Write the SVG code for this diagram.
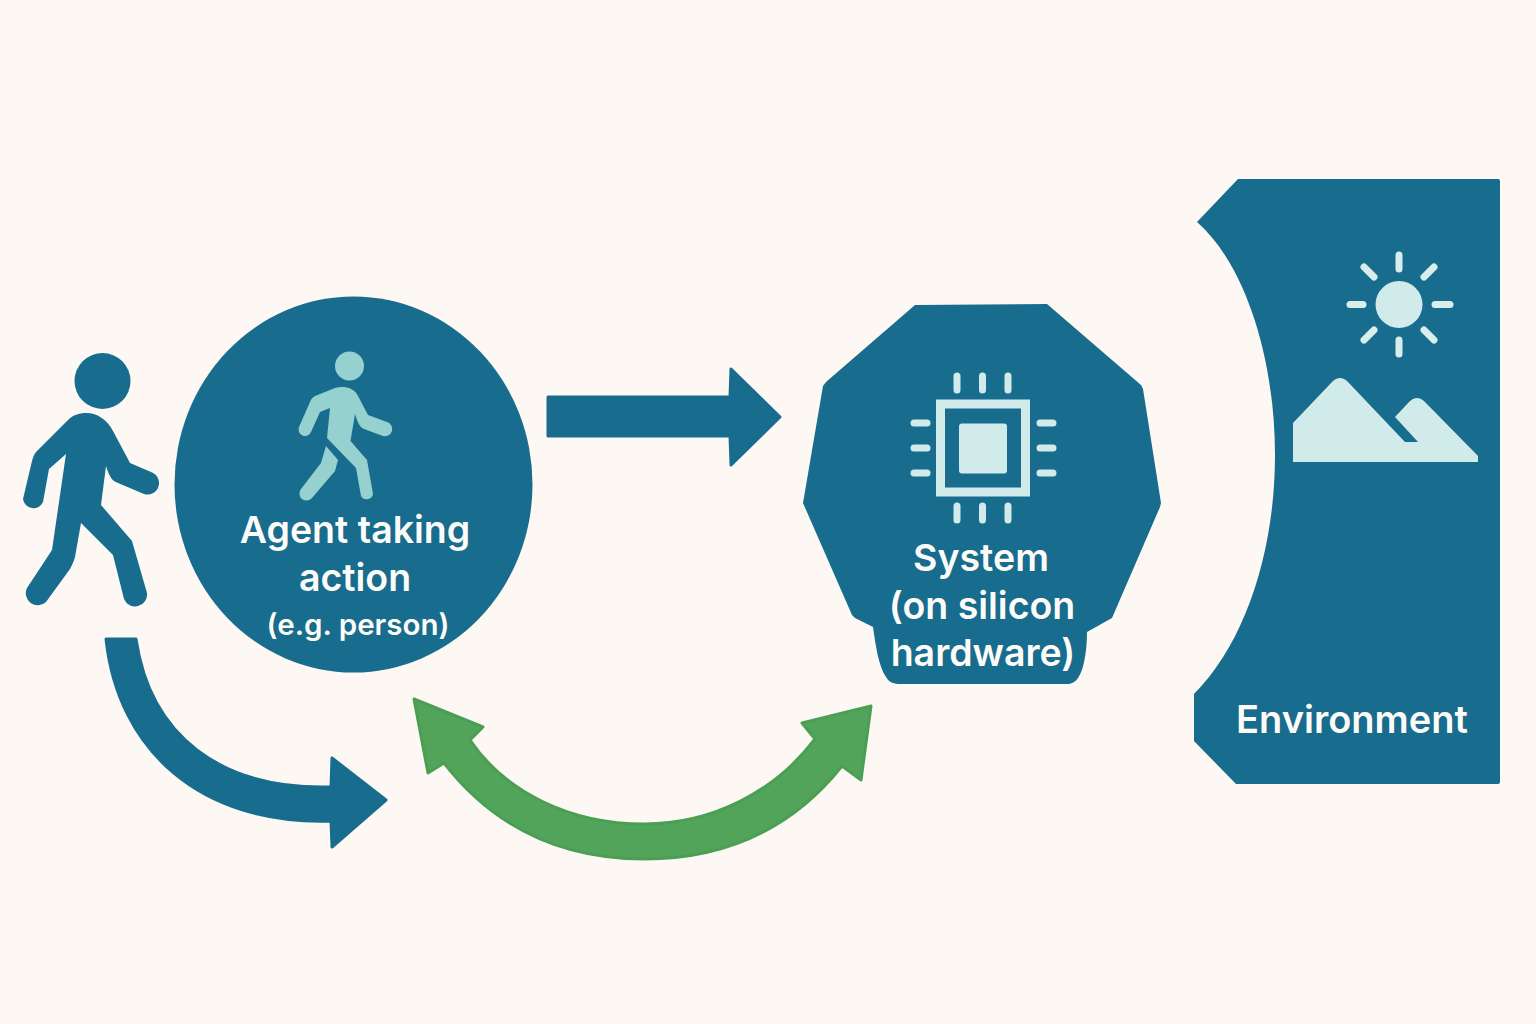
<svg xmlns="http://www.w3.org/2000/svg" width="1536" height="1024" viewBox="0 0 1536 1024">
<style>
.blue{fill:#186c8e;stroke:#186c8e;stroke-width:3;stroke-linejoin:round}
.green{fill:#52a45a;stroke:#4b9f55;stroke-width:3;stroke-linejoin:round}
.teal{fill:#96d1d0}
.pale{fill:#d0ebe9}
.pin{stroke:#d0ebe9;stroke-width:7;stroke-linecap:round;fill:none}
.ray{stroke:#d8eeec;stroke-width:7;stroke-linecap:round;fill:none}
text{font-family:Inter,Roboto,"Liberation Sans",sans-serif;font-weight:600;fill:#fdfbf7;text-anchor:middle}
</style>
<rect width="1536" height="1024" fill="#fdf8f3"/>
<g id="person">
<circle cx="102.500" cy="381" r="28" fill="#186c8e"/>
<path fill="#186c8e" d="M86 413C98 413 107 420 113 431L130 463L151 472A11.500 11.500 0 0 1 144 494L118 483C112 481 109 476 106 466L101 505L132 541L147 593A12 12 0 0 1 124 599L113 555L81 523L75 557C74 561 72 565 70 569L46 602A12 12 0 0 1 27 588L52 550L66 454L49 469L43 502A10.500 10.500 0 0 1 23 499L32 461C33 457 34 454 37 451L68 420C73 415 79 413 86 413Z"/>
</g>
<g id="agent">
<ellipse cx="353.500" cy="484.500" rx="179" ry="188" fill="#186c8e"/>
<circle cx="349.500" cy="366" r="14.500" class="teal"/>
<path class="teal" d="M343 387C350 387 356 391 358 396L368 415L387 422A7 7 0 0 1 383 436L364 429C360 427 358 424 355 414L350.500 441L367 460L373 494A6.500 6.500 0 0 1 361 496L356 468L327 438L330 408L320 412L311 432A6.500 6.500 0 0 1 299 427L310 402C311 399 313 397 315 396L335 388C338 387 340 387 343 387Z"/>
<path class="teal" d="M326 446L338 460L335 471L312 498A7 7 0 0 1 301 489L321 463Z"/>
<text x="355" y="543" font-size="37.500">Agent taking</text>
<text x="355" y="591" font-size="37.500">action</text>
<text x="358" y="635" font-size="29.500">(e.g. person)</text>
</g>
<g id="system">
<path fill="#186c8e" d="M915 305L1047 304L1141 385L1143 389L1161 503L1160 507L1112 618L1087 632C1087 650 1084 670 1078 678C1075 682 1072 684 1066 684L900 684C893 684 889 682 886 677C878 665 875 640 873 627L855 618L852 615L803 503L823 386L826 382Z"/>
<rect x="940.500" y="404" width="85" height="88" fill="none" stroke="#d0ebe9" stroke-width="9"/>
<rect x="959" y="423.500" width="48" height="50" rx="3" class="pale"/>
<path class="pin" d="M957 376V390M982.500 376V390M1008 376V390M957 506V520M982.500 506V520M1008 506V520M914 423H927M914 448H927M914 473H927M1040 423H1053M1040 448H1053M1040 473H1053"/>
<text x="981" y="571" font-size="37.500">System</text>
<text x="982" y="619" font-size="37.500">(on silicon</text>
<text x="983" y="666" font-size="37.500">hardware)</text>
</g>
<g id="environment">
<path fill="#186c8e" d="M1238 179L1498 179Q1500 179 1500 181L1500 782Q1500 784 1498 784L1236 784L1194 741L1194 694C1246 642 1275 550 1275 455C1275 360 1246 265 1197 222Z"/>
<ellipse cx="1399" cy="304.500" rx="23.500" ry="23.500" fill="#d0ebe9"/>
<path class="ray" d="M1399 255V269M1399 340V354M1350 304.500H1363M1435 304.500H1450M1364 267L1374 277M1434 267L1424 277M1364 340L1374 330M1434 340L1424 330"/>
<path class="pale" d="M1293 423L1332 382Q1340 374 1348 382L1405 442L1418 442L1395 417L1409 402Q1417 394 1425 402L1478 456L1478 462L1293 462Z"/>
<text x="1352" y="733" font-size="38">Environment</text>
</g>
<g id="connectors">
<path class="blue" d="M548 397L730 397L731 369L780 417L731 465L730 436L548 436Z"/>
<path class="blue" d="M106 639L136 639C150 735 220 790 331 787L332 758L386 800L332 847L331 821C200 825 118 750 106 639Z"/>
<path class="green" d="M414 699L483 727L470 740C505 792 570 824 644 824C712 824 775 792 815 739L802 723L871 706L861 780L842 766C795 825 730 859 644 859C555 859 490 822 444 763L428 773Z"/>
</g>
</svg>
